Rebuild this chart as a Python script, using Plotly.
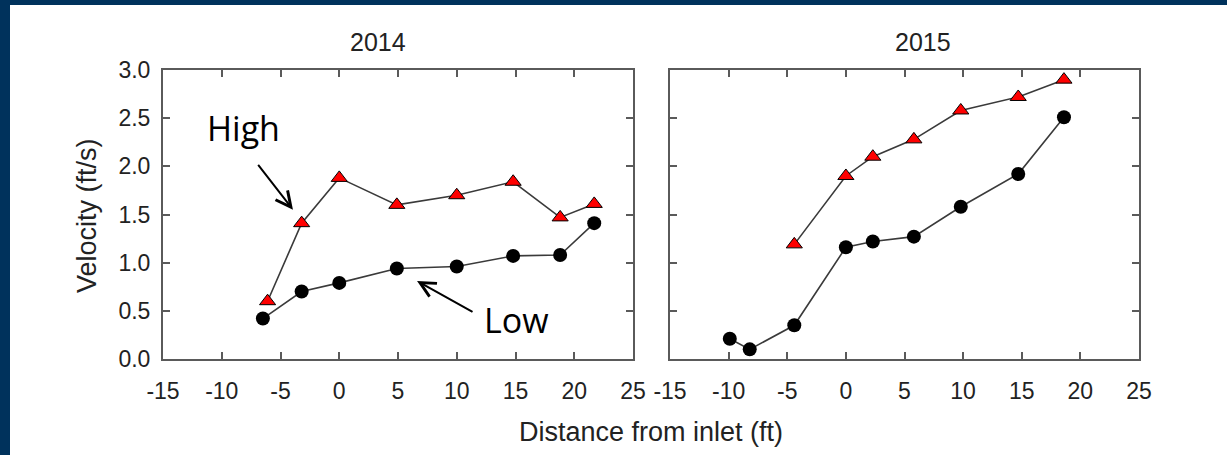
import plotly.graph_objects as go

# ---- data ----
x_high_2014 = [-6.1, -3.2, 0.0, 4.9, 10.0, 14.8, 18.8, 21.7]
y_high_2014 = [0.60, 1.41, 1.88, 1.60, 1.70, 1.84, 1.47, 1.61]
x_low_2014 = [-6.5, -3.2, 0.0, 4.9, 10.0, 14.8, 18.8, 21.7]
y_low_2014 = [0.42, 0.70, 0.79, 0.94, 0.96, 1.07, 1.08, 1.41]

x_high_2015 = [-4.4, 0.0, 2.3, 5.8, 9.8, 14.7, 18.6]
y_high_2015 = [1.19, 1.90, 2.10, 2.28, 2.58, 2.72, 2.90]
x_low_2015 = [-9.9, -8.2, -4.4, 0.0, 2.3, 5.8, 9.8, 14.7, 18.6]
y_low_2015 = [0.21, 0.10, 0.35, 1.16, 1.22, 1.27, 1.58, 1.92, 2.51]

panel_titles = ["2014", "2015"]
x_ticks = [-15, -10, -5, 0, 5, 10, 15, 20, 25]
y_ticks = [0.0, 0.5, 1.0, 1.5, 2.0, 2.5, 3.0]

W, H = 1227, 455
NAVY = "#00325c"
FRAME = "#5a5a5a"
LINE = "#3a3a3a"
TXT = "#222222"

fig = go.Figure()

def add_pair(xh, yh, xl, yl, xa, ya):
    fig.add_trace(go.Scatter(x=xl, y=yl, mode="lines+markers", xaxis=xa, yaxis=ya,
                             line=dict(color=LINE, width=1.6),
                             marker=dict(symbol="circle", size=14, color="black",
                                         line=dict(color="black", width=0)),
                             showlegend=False, hoverinfo="skip"))
    fig.add_trace(go.Scatter(x=xh, y=yh, mode="lines+markers", xaxis=xa, yaxis=ya,
                             line=dict(color=LINE, width=1.6),
                             marker=dict(symbol="triangle-up", size=14, color="#ff0000",
                                         line=dict(color="black", width=1)),
                             showlegend=False, hoverinfo="skip"))

add_pair(x_high_2014, y_high_2014, x_low_2014, y_low_2014, "x", "y")
add_pair(x_high_2015, y_high_2015, x_low_2015, y_low_2015, "x2", "y2")

y_dom = [1 - 359 / H, 1 - 70 / H]
axis_common = dict(showline=True, linecolor=FRAME, linewidth=2, mirror="ticks",
                   ticks="inside", ticklen=7, tickwidth=1.5, tickcolor=FRAME,
                   showgrid=False, zeroline=False,
                   tickfont=dict(family="Liberation Sans, Arial", size=23, color=TXT))

fig.update_layout(
    width=W, height=H,
    margin=dict(l=0, r=0, t=0, b=0, autoexpand=False),
    paper_bgcolor="white", plot_bgcolor="white",
    xaxis=dict(domain=[163 / W, 633 / W], range=[-15, 25], tickvals=x_ticks,
               ticktext=[str(v) for v in x_ticks], anchor="y",
               ticklabelstandoff=10, **axis_common),
    xaxis2=dict(domain=[670 / W, 1139 / W], range=[-15, 25], tickvals=x_ticks,
                ticktext=[str(v) for v in x_ticks], anchor="y2",
                ticklabelstandoff=10, **axis_common),
    yaxis=dict(domain=y_dom, range=[0, 3], tickvals=y_ticks,
               ticktext=[f"{v:.1f}" for v in y_ticks], anchor="x",
               ticklabelstandoff=6, **axis_common),
    yaxis2=dict(domain=y_dom, range=[0, 3], tickvals=y_ticks, showticklabels=False,
                anchor="x2", **axis_common),
)

annotations = [
    dict(text=panel_titles[0], x=378 / W, y=1 - 42 / H, xref="paper", yref="paper",
         showarrow=False, xanchor="center", yanchor="middle",
         font=dict(family="Liberation Sans, Arial", size=25, color=TXT)),
    dict(text=panel_titles[1], x=923 / W, y=1 - 42 / H, xref="paper", yref="paper",
         showarrow=False, xanchor="center", yanchor="middle",
         font=dict(family="Liberation Sans, Arial", size=25, color=TXT)),
    dict(text="Distance from inlet (ft)", x=651 / W, y=1 - 432 / H, xref="paper", yref="paper",
         showarrow=False, xanchor="center", yanchor="middle",
         font=dict(family="Liberation Sans, Arial", size=27, color=TXT)),
    dict(text="Velocity (ft/s)", x=87 / W, y=1 - 215 / H, xref="paper", yref="paper",
         showarrow=False, xanchor="center", yanchor="middle", textangle=-90,
         font=dict(family="Liberation Sans, Arial", size=27, color=TXT)),
    # labels
    dict(text="High", x=-8.15, y=2.40, xref="x", yref="y", showarrow=False,
         xanchor="center", yanchor="middle",
         font=dict(family="Open Sans", size=34, color="black")),
    dict(text="Low", x=15.1, y=0.40, xref="x", yref="y", showarrow=False,
         xanchor="center", yanchor="middle",
         font=dict(family="Open Sans", size=34, color="black")),
    # arrows
    dict(text="", x=-3.94, y=1.55, ax=-7.0, ay=2.03, xref="x", yref="y",
         axref="x", ayref="y", showarrow=True, arrowhead=5, arrowsize=1.5,
         arrowwidth=2, arrowcolor="black", standoff=0, startstandoff=0),
    dict(text="", x=6.62, y=0.81, ax=11.47, ay=0.48, xref="x", yref="y",
         axref="x", ayref="y", showarrow=True, arrowhead=5, arrowsize=1.5,
         arrowwidth=2, arrowcolor="black", standoff=0, startstandoff=0),
]
fig.update_layout(annotations=annotations)

# navy frame on left and top
fig.add_shape(type="rect", xref="paper", yref="paper", x0=0, x1=10 / W, y0=0, y1=1,
              fillcolor=NAVY, line=dict(width=0), layer="above")
fig.add_shape(type="rect", xref="paper", yref="paper", x0=0, x1=1, y0=1 - 5 / H, y1=1,
              fillcolor=NAVY, line=dict(width=0), layer="above")

post_js = (
    "document.documentElement.style.margin='0';"
    "document.body.style.margin='0';document.body.style.padding='0';"
    "document.body.style.overflow='hidden';"
    "document.documentElement.style.overflow='hidden';"
    "var d=document.getElementById('{plot_id}');"
    "d.style.position='fixed';d.style.left='0px';d.style.top='0px';"
)

fig.write_html("out.html", config={"displayModeBar": False}, post_script=post_js)
